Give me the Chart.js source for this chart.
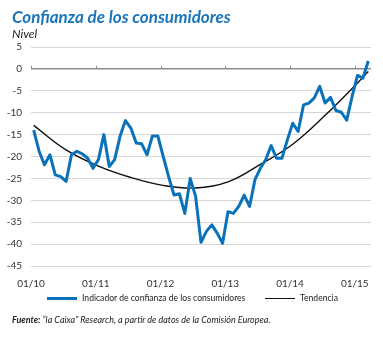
<!DOCTYPE html>
<html>
<head>
<meta charset="utf-8">
<script src="https://cdn.jsdelivr.net/npm/chart.js@4"></script>
<style>
  body { margin: 0; background: #fff; }
  #wrap { position: relative; width: 383px; height: 338px; overflow: hidden; font-family: Lato, "Open Sans", sans-serif; }
  #chart { position: absolute; left: 0; top: 0; }
  .title { position: absolute; left: 12px; top: 6px; font-size: 17px; font-weight: bold; font-style: italic; color: #1a75bb; white-space: nowrap; }
  .sub { position: absolute; left: 12px; top: 26px; font-size: 12px; font-style: italic; color: #222; }
  .legend { position: absolute; top: 292px; font-size: 8.6px; line-height: 12px; color: #222; white-space: nowrap; }
  .legend span.sw { display: inline-block; vertical-align: middle; width: 30px; margin-right: 5px; }
  .source { position: absolute; left: 12px; top: 314px; font-size: 9px; font-style: italic; color: #222; white-space: nowrap; }
</style>
</head>
<body>
<div id="wrap">
  <canvas id="chart" width="383" height="338"></canvas>
  <div class="title">Confianza de los consumidores</div>
  <div class="sub">Nivel</div>
  <div class="legend" style="left:47px"><span class="sw" style="border-top:3px solid #0a72ba"></span>Indicador de confianza de los consumidores</div>
  <div class="legend" style="left:265px"><span class="sw" style="border-top:1.5px solid #111"></span>Tendencia</div>
  <div class="source"><b>Fuente:</b> “la Caixa” Research, a partir de datos de la Comisión Europea.</div>
</div>
<script>
// mensual, 01/2010 - 03/2015
const confianza = [
  -14, -18.8, -21.9, -19.6, -24.2, -24.6, -25.7, -19.6, -18.8, -19.4, -20.4, -22.7,
  -20.7, -15, -22.3, -20.7, -15.4, -11.8, -13.5, -16.9, -17.1, -19.6, -15.3, -15.3,
  -20, -24.6, -28.8, -28.5, -33, -25, -29.1, -39.6, -37.1, -35.6, -37.5, -39.8,
  -32.6, -33, -31.4, -28.8, -31.4, -25.3, -22.7, -20.7, -17.5, -20.4, -20.4, -16.2,
  -12.4, -14.3, -8.2, -7.8, -6.6, -4, -7.8, -6.5, -9.5, -9.9, -11.7, -6.3,
  -1.5, -2.1, 1.8
];
const tendMes = [0, 6, 12, 18, 24, 30, 36, 42, 48, 54, 60, 62];
const tendencia = [-12.9, -18.5, -22.2, -24.8, -26.6, -27.2, -25.8, -21.8, -17.2, -10.6, -3.2, -0.6];
const etiquetas = ['01/10', '01/11', '01/12', '01/13', '01/14', '01/15'];

const serie1 = confianza.map((v, i) => ({ x: i + 0.5, y: v }));
const serie2 = tendMes.map((m, i) => ({ x: m + 0.5, y: tendencia[i] }));

// pequeñas marcas de año sobre la línea del 0
const marcasAnio = {
  id: 'marcasAnio',
  beforeDatasetsDraw(chart) {
    const ctx = chart.ctx, xs = chart.scales.x, ys = chart.scales.y;
    const y0 = ys.getPixelForValue(0);
    ctx.save();
    ctx.strokeStyle = '#8c8c8c';
    ctx.lineWidth = 1;
    etiquetas.forEach((e, k) => {
      const x = Math.round(xs.getPixelForValue(k * 12)) + 0.5;
      ctx.beginPath();
      ctx.moveTo(x, y0);
      ctx.lineTo(x, y0 - 3);
      ctx.stroke();
    });
    ctx.restore();
  }
};

const ctx = document.getElementById('chart').getContext('2d');
new Chart(ctx, {
  type: 'line',
  data: {
    datasets: [
      { label: 'Indicador de confianza de los consumidores', data: serie1, borderColor: '#0a72ba', borderWidth: 3, pointRadius: 0, tension: 0, borderJoinStyle: 'round' },
      { label: 'Tendencia', data: serie2, borderColor: '#111', borderWidth: 1.4, pointRadius: 0, tension: 0.4 }
    ]
  },
  options: {
    responsive: false,
    animation: false,
    layout: { padding: { top: 47, right: 12, bottom: 42, left: 0 } },
    plugins: { legend: { display: false }, tooltip: { enabled: false } },
    scales: {
      x: {
        type: 'linear', min: 0, max: 63,
        afterBuildTicks(s) { s.ticks = etiquetas.map((e, k) => ({ value: k * 12 })); },
        afterFit(s) { s.height = 30; },
        grid: { display: false },
        border: { display: false },
        ticks: {
          padding: 4, color: '#333', font: { family: 'Lato', size: 10 }, maxRotation: 0, autoSkip: false,
          callback: (v) => etiquetas[v / 12]
        }
      },
      y: {
        min: -45, max: 5,
        afterFit(s) { s.width = 31; },
        border: { display: false },
        grid: {
          drawTicks: false,
          color: (c) => c.tick.value === 0 ? '#8c8c8c' : '#d6d6d6',
          lineWidth: (c) => c.tick.value === 0 ? 1.5 : 1
        },
        ticks: { stepSize: 5, padding: 9, color: '#333', font: { family: 'Lato', size: 10 } }
      }
    }
  },
  plugins: [marcasAnio]
});
</script>
</body>
</html>
